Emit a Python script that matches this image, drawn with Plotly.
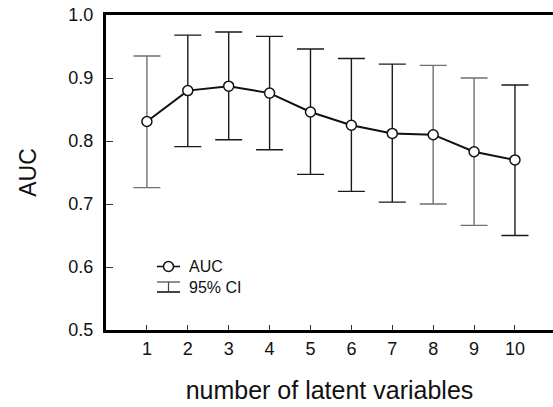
import plotly.graph_objects as go

# data
n_latent = [1, 2, 3, 4, 5, 6, 7, 8, 9, 10]
auc = [0.831, 0.880, 0.887, 0.876, 0.846, 0.825, 0.812, 0.810, 0.783, 0.770]
ci_upper = [0.935, 0.968, 0.973, 0.966, 0.946, 0.931, 0.922, 0.920, 0.900, 0.889]
ci_lower = [0.726, 0.791, 0.802, 0.786, 0.747, 0.720, 0.703, 0.700, 0.666, 0.650]
faint_bars = [1, 8, 9]  # error bars drawn lighter in the original
y_ticks = [0.5, 0.6, 0.7, 0.8, 0.9, 1.0]
y_ticklabels = ["0.5", "0.6", "0.7", "0.8", "0.9", "1.0"]

FONT = "Liberation Sans, Arial, sans-serif"

fig = go.Figure()

for faint in (True, False):
    idx = [i for i, x in enumerate(n_latent) if (x in faint_bars) == faint]
    fig.add_trace(go.Scatter(
        x=[n_latent[i] for i in idx],
        y=[auc[i] for i in idx],
        mode="markers",
        marker=dict(color="rgba(0,0,0,0)", size=1),
        error_y=dict(
            type="data", symmetric=False,
            array=[ci_upper[i] - auc[i] for i in idx],
            arrayminus=[auc[i] - ci_lower[i] for i in idx],
            color="#707070" if faint else "#1a1a1a",
            thickness=1.4, width=13.5,
        ),
        showlegend=False, hoverinfo="skip",
    ))

fig.add_trace(go.Scatter(
    x=n_latent, y=auc, mode="lines+markers",
    line=dict(color="#111111", width=2),
    marker=dict(symbol="circle", size=10, color="white",
                line=dict(color="#111111", width=1.5)),
    showlegend=False,
))

# custom legend (paper coords of the plot area)
L, R, T, B = 106, 553, 15, 330
def px(x):
    return (x - L) / (R - L)
def py(y):
    return (B - y) / (B - T)

shapes = [
    dict(type="line", xref="paper", yref="paper", x0=px(157), x1=px(180),
         y0=py(266.5), y1=py(266.5), line=dict(color="#111", width=1.6)),
    dict(type="circle", xref="paper", yref="paper", x0=px(163.5), x1=px(173.5),
         y0=py(271.5), y1=py(261.5), fillcolor="white", line=dict(color="#111", width=1.5)),
    dict(type="line", xref="paper", yref="paper", x0=px(157), x1=px(180),
         y0=py(282), y1=py(282), line=dict(color="#444", width=1.2)),
    dict(type="line", xref="paper", yref="paper", x0=px(168.5), x1=px(168.5),
         y0=py(282), y1=py(292), line=dict(color="#444", width=1.2)),
    dict(type="line", xref="paper", yref="paper", x0=px(157), x1=px(180),
         y0=py(292), y1=py(292), line=dict(color="#444", width=2)),
]
annotations = [
    dict(text="AUC", xref="paper", yref="paper", x=px(187), y=py(266.5),
         xanchor="left", yanchor="middle", showarrow=False,
         font=dict(family=FONT, size=16, color="#111")),
    dict(text="95% CI", xref="paper", yref="paper", x=px(187), y=py(287),
         xanchor="left", yanchor="middle", showarrow=False,
         font=dict(family=FONT, size=16, color="#111")),
]

fig.update_layout(
    width=553, height=407,
    margin=dict(l=106, r=0, t=15, b=77),
    paper_bgcolor="white", plot_bgcolor="white",
    font=dict(family=FONT, color="#111"),
    shapes=shapes, annotations=annotations,
    xaxis=dict(
        range=[0, 10.93], tickmode="array", tickvals=n_latent,
        ticks="inside", ticklen=5, tickwidth=1, tickcolor="#333",
        showline=True, linecolor="#000", linewidth=3, mirror=True,
        showgrid=False, zeroline=False,
        tickfont=dict(family=FONT, size=18),
        title=dict(text="number of latent variables", standoff=24,
                   font=dict(family=FONT, size=25)),
    ),
    yaxis=dict(
        range=[0.5, 1.0], tickmode="array", tickvals=y_ticks, ticktext=y_ticklabels,
        ticks="inside", ticklen=7, tickwidth=1, tickcolor="#333",
        showline=True, linecolor="#000", linewidth=3, mirror=False,
        showgrid=False, zeroline=False, ticklabelstandoff=6,
        tickfont=dict(family=FONT, size=18),
        title=dict(text="AUC", standoff=26, font=dict(family=FONT, size=23)),
    ),
)

fig.write_html("out.html")
